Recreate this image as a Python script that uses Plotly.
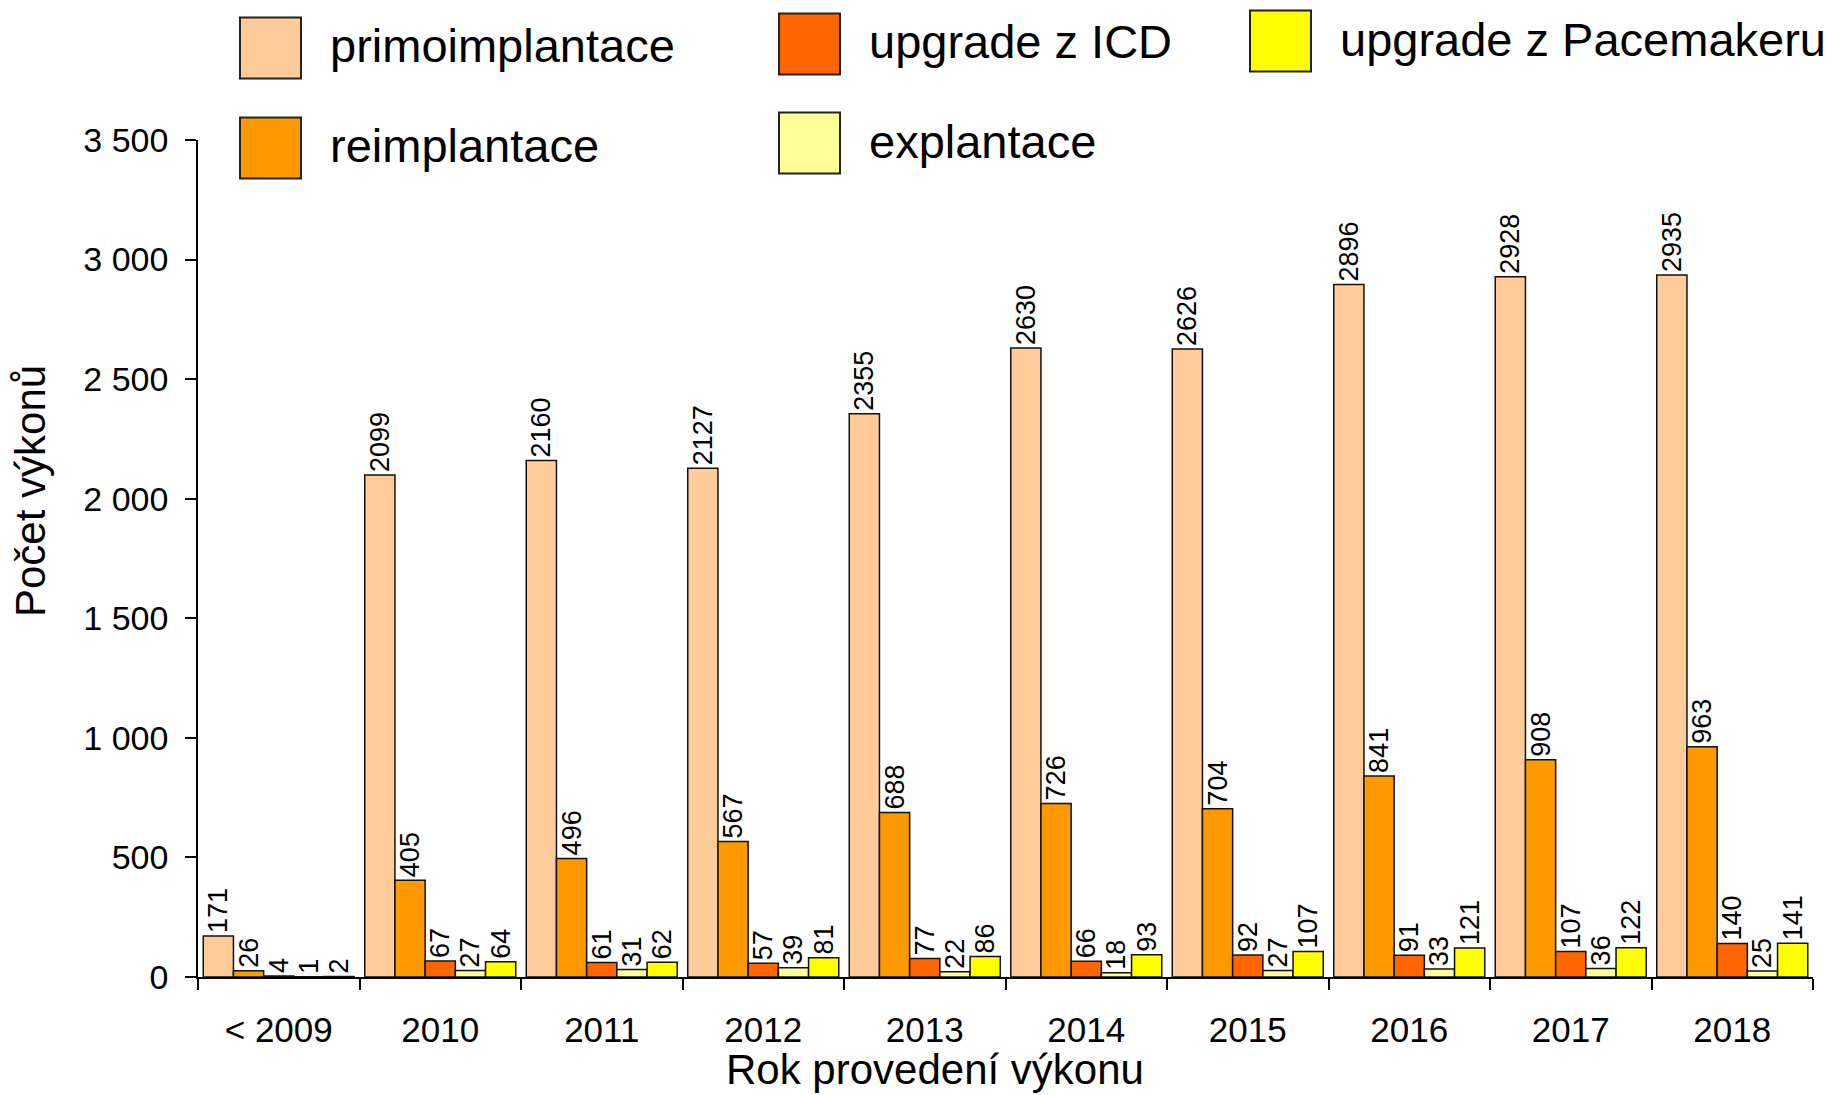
import plotly.graph_objects as go

# ---------------- data ----------------
categories = ["< 2009", "2010", "2011", "2012", "2013", "2014", "2015", "2016", "2017", "2018"]
primoimplantace = [171, 2099, 2160, 2127, 2355, 2630, 2626, 2896, 2928, 2935]
reimplantace = [26, 405, 496, 567, 688, 726, 704, 841, 908, 963]
upgrade_icd = [4, 67, 61, 57, 77, 66, 92, 91, 107, 140]
explantace = [1, 27, 31, 39, 22, 18, 27, 33, 36, 25]
upgrade_pacemaker = [2, 64, 62, 81, 86, 93, 107, 121, 122, 141]

series_names = ["primoimplantace", "reimplantace", "upgrade z ICD", "explantace", "upgrade z Pacemakeru"]
series_values = [primoimplantace, reimplantace, upgrade_icd, explantace, upgrade_pacemaker]
series_colors = ["#FFCC99", "#FF9900", "#FF6600", "#FFFF99", "#FFFF00"]

y_tick_values = [0, 500, 1000, 1500, 2000, 2500, 3000, 3500]
y_title = "Počet výkonů"
x_title = "Rok provedení výkonu"

# ---------------- layout constants (pixels) ----------------
W, H = 1835, 1095
L, R, T, B = 198, 22, 140, 118
FONT = "Liberation Sans, Arial, sans-serif"

def px_to_paper_x(px):
    return (px - L) / (W - L - R)

def px_to_paper_y(py):
    return (H - B - py) / (H - T - B)

fig = go.Figure()
for name, vals, col in zip(series_names, series_values, series_colors):
    fig.add_trace(go.Bar(
        name=name, x=categories, y=vals,
        marker=dict(color=col, line=dict(color="#111111", width=1.5)),
        text=[str(v) for v in vals], textposition="outside", textangle=-90,
        textfont=dict(family=FONT, size=27, color="black"),
        constraintext="none", cliponaxis=False, showlegend=False,
    ))

# legend (drawn as large swatches + text to match the reference)
legend_slots = {  # series index -> (swatch left px, row center px)
    0: (240, 48), 2: (779, 44), 4: (1250, 41),
    1: (240, 148), 3: (779, 143),
}
sw = 61
shapes, annotations = [], []
for idx, (sx, cy) in legend_slots.items():
    shapes.append(dict(type="rect", xref="paper", yref="paper",
                       x0=px_to_paper_x(sx), x1=px_to_paper_x(sx + sw),
                       y0=px_to_paper_y(cy + sw / 2), y1=px_to_paper_y(cy - sw / 2),
                       fillcolor=series_colors[idx], line=dict(color="#222222", width=2)))
    annotations.append(dict(xref="paper", yref="paper", x=px_to_paper_x(sx + sw + 27),
                            y=px_to_paper_y(cy - 2), xanchor="left", yanchor="middle",
                            text=series_names[idx], showarrow=False,
                            font=dict(family=FONT, size=47, color="black")))

annotations.append(dict(xref="paper", yref="paper", x=px_to_paper_x(31), y=px_to_paper_y(491),
                        text=y_title, textangle=-90, showarrow=False, xanchor="center", yanchor="middle",
                        font=dict(family=FONT, size=42, color="black")))
annotations.append(dict(xref="paper", yref="paper", x=px_to_paper_x(935), y=px_to_paper_y(1069),
                        text=x_title, showarrow=False, xanchor="center", yanchor="middle",
                        font=dict(family=FONT, size=42, color="black")))

fig.update_layout(
    width=W, height=H,
    margin=dict(l=L, r=R, t=T, b=B, pad=0),
    paper_bgcolor="white", plot_bgcolor="white",
    barmode="group", bargap=0.065, bargroupgap=0,
    separators=", ",
    font=dict(family=FONT, color="black"),
    shapes=shapes, annotations=annotations,
    showlegend=False,
)
fig.update_xaxes(
    type="category", range=[-0.5, len(categories) - 0.5],
    showline=True, linecolor="black", linewidth=1.5,
    ticks="outside", ticklen=11, tickwidth=1.5, tickcolor="black",
    tickson="boundaries", showgrid=False, zeroline=False,
    tickfont=dict(family=FONT, size=35, color="black"), ticklabelstandoff=21,
)
fig.update_yaxes(
    range=[0, 3500], tickvals=y_tick_values, tickformat=",d",
    showline=True, linecolor="black", linewidth=1.5,
    ticks="outside", ticklen=11, tickwidth=1.5, tickcolor="black",
    showgrid=False, zeroline=False,
    tickfont=dict(family=FONT, size=34, color="black"), ticklabelstandoff=10,
)

fig.write_html("out.html", config={"displayModeBar": False},
               post_script="document.body.style.margin='0';document.body.style.overflow='hidden';")
